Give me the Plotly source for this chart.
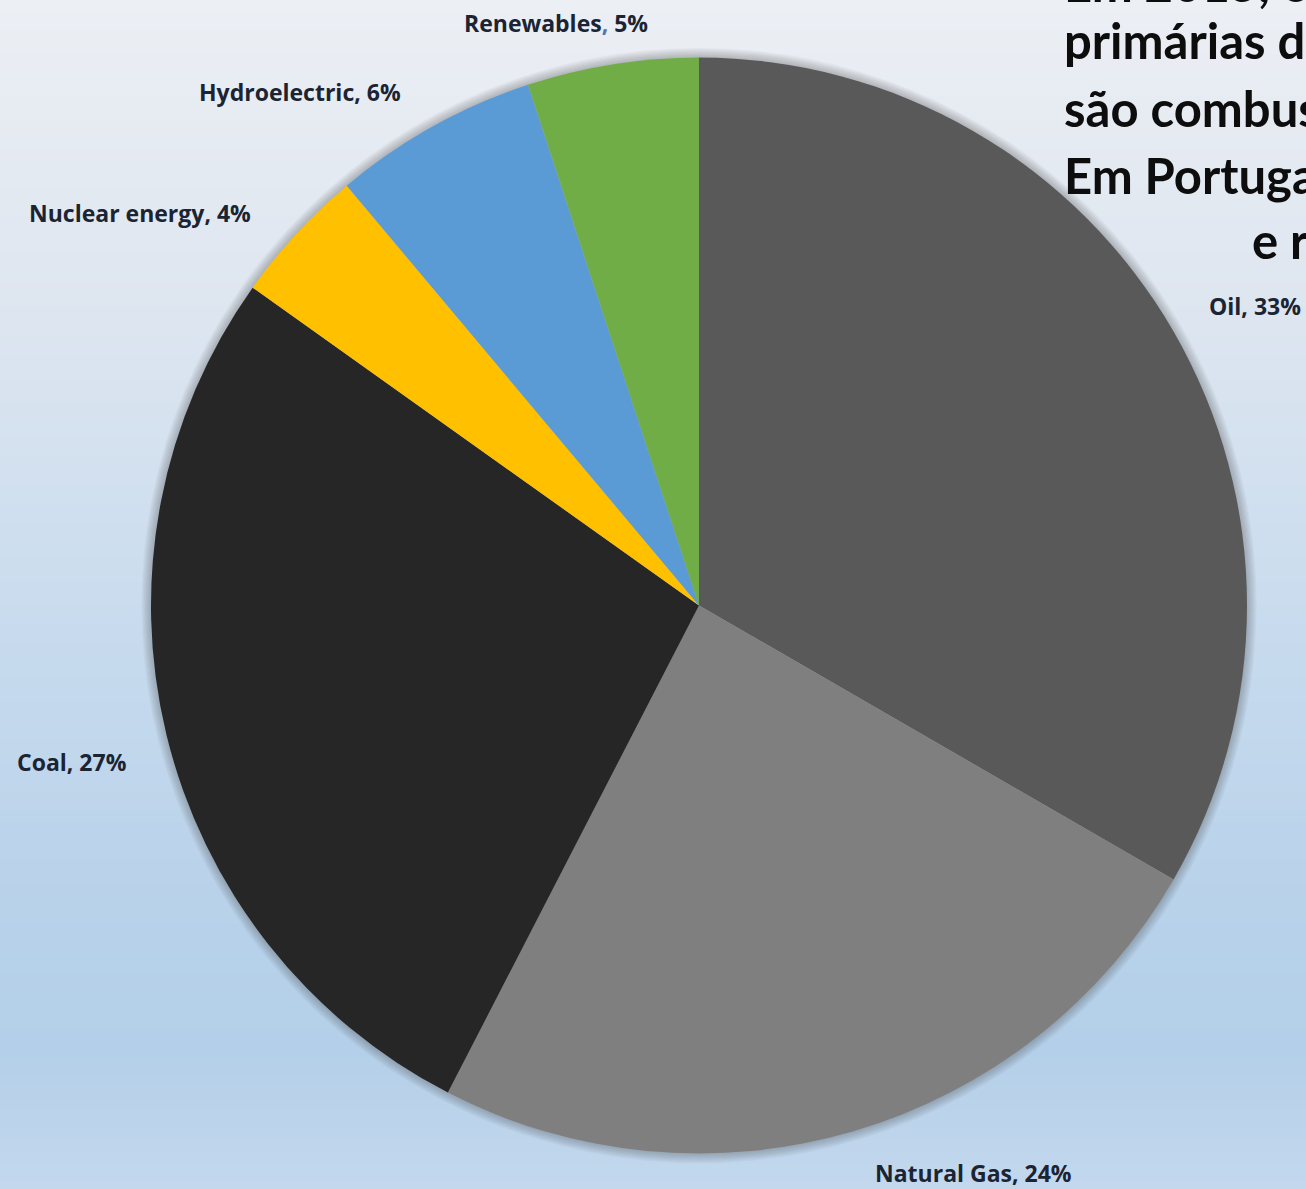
import plotly.graph_objects as go

# Primary energy consumption by source (world, 2015)
sources = ["Oil", "Natural Gas", "Coal", "Nuclear energy", "Hydroelectric", "Renewables"]
shares = [33, 24, 27, 4, 6, 5]
slice_colors = ["#595959", "#7f7f7f", "#262626", "#ffc000", "#5b9bd5", "#70ad47"]

# Side note (Portuguese), one entry per line
note_lines = [
    "Em 2015, os recursos energéticos",
    "primárias de maior consumo",
    "são combustíveis fósseis.",
    "Em Portugal também,",
    "e r",
]

W, H = 1306, 1189
CX, CY, R = 699, 605.5, 548


def fx(x):
    return x / W


def fy(y):
    return 1 - y / H


def hex_rgb(h):
    h = h.lstrip("#")
    return [int(h[i:i + 2], 16) for i in (0, 2, 4)]


# Background: soft vertical gradient
bg_stops = [(0, "#eceff4"), (300, "#dee6f0"), (600, "#cadcee"),
            (900, "#b8d2ea"), (1050, "#b4cfe9"), (1189, "#c3d8ed")]


def bg_color(y):
    for (y0, c0), (y1, c1) in zip(bg_stops[:-1], bg_stops[1:]):
        if y0 <= y <= y1:
            t = (y - y0) / (y1 - y0)
            a, b = hex_rgb(c0), hex_rgb(c1)
            return "rgb({},{},{})".format(*[round(a[i] + (b[i] - a[i]) * t) for i in range(3)])
    return bg_stops[-1][1]


shapes = []
band = 6
for y in range(0, H, band):
    shapes.append(dict(type="rect", xref="paper", yref="paper", layer="below",
                       x0=0, x1=1, y0=fy(min(y + band, H)), y1=fy(y),
                       fillcolor=bg_color(y + band / 2), line=dict(width=0)))

# Soft halo around the pie
for k in range(1, 9):
    rr = R + k * 1.2
    shapes.append(dict(type="circle", xref="paper", yref="paper", layer="below",
                       x0=fx(CX - rr), x1=fx(CX + rr), y0=fy(CY + rr), y1=fy(CY - rr),
                       fillcolor="rgba(60,70,80,0.045)", line=dict(width=0)))

fig = go.Figure(go.Pie(
    labels=sources,
    values=shares,
    sort=False,
    direction="clockwise",
    rotation=0,
    marker=dict(colors=slice_colors, line=dict(width=0)),
    textinfo="none",
    hovertemplate="%{label}, %{value}%<extra></extra>",
    domain=dict(x=[fx(CX - R), fx(CX + R)], y=[fy(CY + R), fy(CY - R)]),
    showlegend=False,
))

# Slice label positions (pixel centres) and separator colours
label_pos = [(1255, 306), (974, 1173), (72, 762), (140, 213), (300, 92), (556, 23)]
sep_colors = ["#1b2433"] * 5 + ["#4f74b0"]

annotations = []
for name, val, (lx, ly), sc in zip(sources, shares, label_pos, sep_colors):
    txt = f"{name}<span style='color:{sc}'>,</span> {val}%"
    annotations.append(dict(
        x=fx(lx), y=fy(ly), xref="paper", yref="paper",
        xanchor="center", yanchor="middle", showarrow=False, text=txt,
        font=dict(family="Open Sans", size=23, color="#1b2433", weight=700),
    ))

note_x = [1062, 1062, 1062, 1062, 1250]
note_y = [-17, 40, 108, 175, 240]
for line, nx, ny in zip(note_lines, note_x, note_y):
    annotations.append(dict(
        x=fx(nx), y=fy(ny), xref="paper", yref="paper",
        xanchor="left", yanchor="middle", showarrow=False, text=line,
        font=dict(family="Lato", size=49, color="#0d0d0d", weight=700),
    ))

fig.update_layout(
    width=W, height=H,
    margin=dict(l=0, r=0, t=0, b=0),
    paper_bgcolor="#dfe7f1",
    plot_bgcolor="rgba(0,0,0,0)",
    shapes=shapes,
    annotations=annotations,
)

fig.write_html("out.html")
